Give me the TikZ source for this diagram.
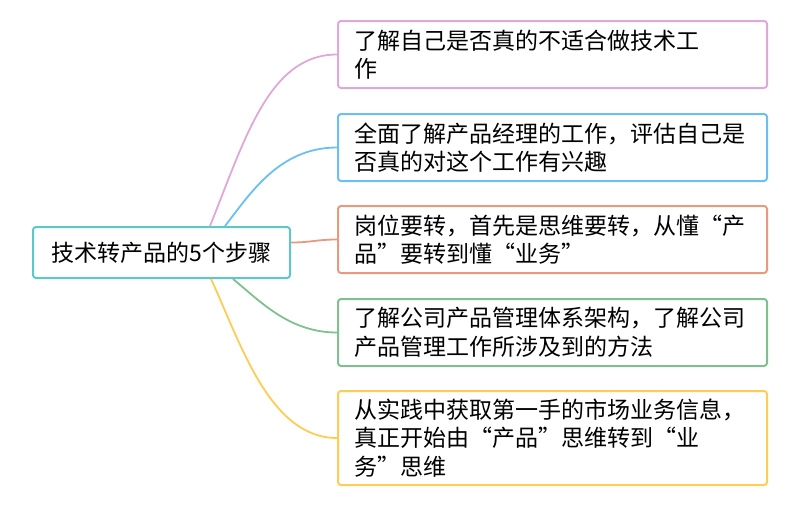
\documentclass[tikz,border=0pt]{standalone}
\usepackage{fontspec}
\setmainfont{Noto Sans CJK SC}

\definecolor{rootc}{HTML}{5CC8CC}
\definecolor{pinkc}{HTML}{E0A8D8}
\definecolor{bluec}{HTML}{6CC0F0}
\definecolor{orangec}{HTML}{E89A80}
\definecolor{greenc}{HTML}{80C090}
\definecolor{yellowc}{HTML}{FFCC55}

\tikzset{
  rootbox/.style={draw=rootc, line width=2pt, rounded corners=3pt, fill=white,
    minimum width=257pt, minimum height=51pt, inner sep=0pt,
    font=\fontsize{23}{29}\selectfont},
  stepbox/.style={draw=#1, line width=2pt, rounded corners=3pt, fill=white,
    text width=397pt, inner xsep=16pt, inner ysep=0pt, align=left,
    font=\fontsize{23}{28.5}\selectfont},
  link/.style={draw=#1, line width=1.8pt}
}

\begin{document}
\begin{tikzpicture}[x=1pt,y=-1pt]

\useasboundingbox (0,0) rectangle (800,506);

%Root
\node[rootbox] (root) at (161.5,252.5) {技术转产品的5个步骤};

%Steps
\node[stepbox=pinkc, minimum height=67pt] (s1) at (552.5,54.5) {了解自己是否真的不适合做技术工\\作};
\node[stepbox=bluec, minimum height=67pt] (s2) at (552.5,147.5) {全面了解产品经理的工作，评估自己是\\否真的对这个工作有兴趣};
\node[stepbox=orangec, minimum height=67pt] (s3) at (552.5,239.5) {岗位要转，首先是思维要转，从懂“产\\品”要转到懂“业务”};
\node[stepbox=greenc, minimum height=67pt] (s4) at (552.5,332.5) {了解公司产品管理体系架构，了解公司\\产品管理工作所涉及到的方法};
\node[stepbox=yellowc, minimum height=94pt] (s5) at (552.5,438) {从实践中获取第一手的市场业务信息，\\真正开始由“产品”思维转到“业\\务”思维};

%Links
\draw[link=pinkc] ([xshift=48.5pt]root.north) .. controls +(35,-87) and +(-68,0) .. (s1.west);
\draw[link=bluec] ([xshift=63.5pt]root.north) .. controls +(25,-32) and +(-58,0) .. (s2.west);
\draw[link=orangec] ([yshift=10pt]root.east) .. controls +(20,0) and +(-20,0) .. (s3.west);
\draw[link=greenc] ([xshift=71.5pt]root.south) .. controls +(27,22) and +(-48,0) .. (s4.west);
\draw[link=yellowc] ([xshift=49.5pt]root.south) .. controls +(29,62) and +(-68,0) .. (s5.west);

\end{tikzpicture}
\end{document}
